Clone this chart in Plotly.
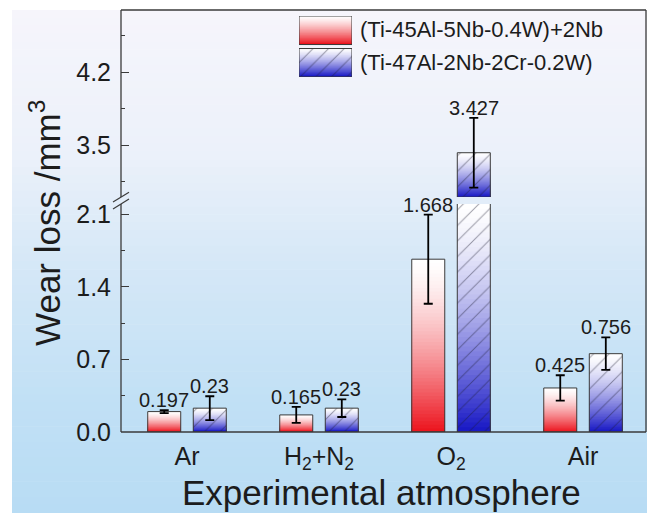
import plotly.graph_objects as go

# ---------------- data ----------------
CATEGORIES = ["Ar", "H<sub>2</sub>+N<sub>2</sub>", "O<sub>2</sub>", "Air"]
SERIES_NAMES = ["(Ti-45Al-5Nb-0.4W)+2Nb", "(Ti-47Al-2Nb-2Cr-0.2W)"]
WEAR_A = [0.197, 0.165, 1.668, 0.425]
ERR_A = [0.015, 0.077, 0.43, 0.123]
WEAR_B = [0.23, 0.23, 3.427, 0.756]
ERR_B = [0.115, 0.085, 0.335, 0.157]

LOW_TICKS = [0.0, 0.7, 1.4, 2.1]
LOW_TICKTEXT = ["0.0", "0.7", "1.4", "2.1"]
LOW_MINOR = [0.35, 1.05, 1.75]
HIGH_TICKS = [3.5, 4.2]
HIGH_TICKTEXT = ["3.5", "4.2"]
HIGH_MINOR = [3.15, 3.85, 4.55]
LOW_RANGE = [0.0, 2.2]
HIGH_RANGE = [3.0, 4.8]

# ---------------- geometry / style ----------------
W, H = 652, 513
L, R, T, B = 121, 646, 8, 432          # plot area in pixels
LOW_TOP_PX, HIGH_BOT_PX = 203, 196       # axis break
PW, PH = R - L, B - T

def px(xp):
    return (xp - L) / PW

def py(yp):
    return (B - yp) / PH

LOW_DOMAIN = [0.0, py(LOW_TOP_PX)]
HIGH_DOMAIN = [py(HIGH_BOT_PX), 1.0]

FONT = "Liberation Sans, Arial, sans-serif"
INK = "#1c1c1c"
EDGE = "#3a3a3a"
RED = (236, 18, 28)
BLUE = (22, 22, 196)
BAR_W = 0.25
CENTERS = [-0.1725, 0.1725]
N_BANDS = 48
HATCH = dict(shape="/", fgcolor="rgba(25,25,45,0.85)", bgcolor="rgba(0,0,0,0)",
             size=11, solidity=0.09, fillmode="overlay")
NO_HATCH = dict(shape="")


def mix(col, t):
    r, g, b = (round(255 + (c - 255) * t) for c in col)
    return f"rgb({r},{g},{b})"


def gradient_bar(xs, lows, highs, col, offset, xa, ya, width=BAR_W, gamma=1.45):
    """Vertical white-to-colour gradient drawn as nested bars (tallest first)."""
    gx, gy, gb, gc = [], [], [], []
    for x, lo, hi in zip(xs, lows, highs):
        if hi <= lo:
            continue
        for k in range(N_BANDS):
            frac = (N_BANDS - k) / N_BANDS
            t = (k + 0.5) / N_BANDS
            gx.append(x)
            gb.append(lo)
            gy.append((hi - lo) * frac)
            gc.append(mix(col, t ** gamma))
    return go.Bar(x=gx, y=gy, base=gb, marker=dict(color=gc, line=dict(width=0)),
                  offset=offset, width=width, xaxis=xa, yaxis=ya,
                  showlegend=False, hoverinfo="skip")


fig = go.Figure()

series = [
    (WEAR_A, ERR_A, RED, NO_HATCH),
    (WEAR_B, ERR_B, BLUE, HATCH),
]

for (vals, errs, col, pat), c in zip(series, CENTERS):
    off = c - BAR_W / 2
    # lower segment of the broken axis
    fig.add_trace(gradient_bar(CATEGORIES, [LOW_RANGE[0]] * len(vals),
                               [min(v, LOW_RANGE[1]) for v in vals], col, off, "x", "y"))
    fig.add_trace(go.Bar(
        x=CATEGORIES, y=vals, offset=off, width=BAR_W, xaxis="x", yaxis="y",
        marker=dict(color="rgba(0,0,0,0)", pattern=pat, line=dict(color=EDGE, width=1)),
        error_y=dict(type="data", array=errs, color="black", thickness=1.8, width=4.5),
        showlegend=False, hoverinfo="skip"))

    # upper segment of the broken axis
    hi_idx = [i for i, v in enumerate(vals) if v > HIGH_RANGE[0]]
    if hi_idx:
        hx = [CATEGORIES[i] for i in hi_idx]
        hv = [vals[i] for i in hi_idx]
        he = [errs[i] for i in hi_idx]
        fig.add_trace(gradient_bar(hx, [HIGH_RANGE[0]] * len(hv), hv, col, off, "x2", "y2"))
        fig.add_trace(go.Bar(
            x=hx, y=[v - HIGH_RANGE[0] for v in hv], base=[HIGH_RANGE[0]] * len(hv),
            offset=off, width=BAR_W, xaxis="x2", yaxis="y2",
            marker=dict(color="rgba(0,0,0,0)", pattern=pat, line=dict(color=EDGE, width=1)),
            showlegend=False, hoverinfo="skip"))
        fig.add_trace(go.Bar(
            x=hx, y=hv, offset=off, width=BAR_W, xaxis="x2", yaxis="y2",
            marker=dict(color="rgba(0,0,0,0)", line=dict(width=0)),
            error_y=dict(type="data", array=he, color="black", thickness=1.8, width=4.5),
            showlegend=False, hoverinfo="skip"))

# value labels above the error bars
annotations = []
for (vals, errs, _, _), c in zip(series, CENTERS):
    for i, (v, e) in enumerate(zip(vals, errs)):
        top = v + e
        yref = "y2" if top > HIGH_RANGE[0] else "y"
        annotations.append(dict(
            x=i + c, y=top, xref="x", yref=yref, text=f"{v:g}", showarrow=False,
            xanchor="center", yanchor="middle", yshift=10,
            font=dict(family=FONT, size=20, color=INK)))

# legend drawn as its own small subplot
LEG_X = [299, 352]
LEG_Y = [14, 75]
leg_h = LEG_Y[1] - LEG_Y[0]
leg_rows = [(leg_h - 28.7, leg_h), (0.0, 28.3)]
for (lo, hi), (_, _, col, pat) in zip(leg_rows, series):
    fig.add_trace(gradient_bar([0.5], [lo], [hi], col, -0.5, "x3", "y3", width=1.0, gamma=1.3))
    fig.add_trace(go.Bar(
        x=[0.5], y=[hi - lo], base=[lo], offset=-0.5, width=1.0, xaxis="x3", yaxis="y3",
        marker=dict(color="rgba(0,0,0,0)", pattern=pat, line=dict(color=EDGE, width=1)),
        showlegend=False, hoverinfo="skip"))
for name, yc in zip(SERIES_NAMES, [28, 61]):
    annotations.append(dict(
        x=px(358), y=py(yc), xref="paper", yref="paper", text=name, showarrow=False,
        xanchor="left", yanchor="middle", font=dict(family=FONT, size=22, color=INK)))

# axis titles
annotations.append(dict(
    x=px(45), y=py(222), xref="paper", yref="paper", text="Wear loss /mm<sup>3</sup>",
    textangle=-90, showarrow=False, xanchor="center", yanchor="middle",
    font=dict(family=FONT, size=35, color=INK)))
annotations.append(dict(
    x=px(381), y=py(493), xref="paper", yref="paper", text="Experimental atmosphere",
    showarrow=False, xanchor="center", yanchor="middle",
    font=dict(family=FONT, size=35, color=INK)))

# background: soft vertical wash from lavender-white to light blue
BG_STOPS = [(8, (246, 245, 251)), (150, (236, 241, 250)), (260, (214, 232, 247)),
            (400, (193, 224, 245)), (513, (184, 220, 244))]
shapes = []
n_bg = 64
for j in range(n_bg):
    y0 = BG_STOPS[0][0] + (BG_STOPS[-1][0] - BG_STOPS[0][0]) * j / n_bg
    y1 = BG_STOPS[0][0] + (BG_STOPS[-1][0] - BG_STOPS[0][0]) * (j + 1) / n_bg
    ym = (y0 + y1) / 2
    for (a, ca), (b, cb) in zip(BG_STOPS[:-1], BG_STOPS[1:]):
        if a <= ym <= b:
            f = (ym - a) / (b - a)
            rgb = tuple(round(p + (q - p) * f) for p, q in zip(ca, cb))
            break
    shapes.append(dict(type="rect", xref="paper", yref="paper", layer="below",
                       x0=px(12), x1=px(647), y0=py(y1 + 0.6), y1=py(y0),
                       fillcolor=f"rgb{rgb}", line=dict(width=0)))

# frame with a break on the left axis
frame = dict(color=EDGE, width=1.3)
for x0, y0, x1, y1 in [(L, B, R, B), (L, T, R, T), (R, T, R, B),
                       (L, B, L, LOW_TOP_PX), (L, HIGH_BOT_PX, L, T)]:
    shapes.append(dict(type="line", xref="paper", yref="paper", layer="above",
                       x0=px(x0), y0=py(y0), x1=px(x1), y1=py(y1), line=frame))
for yc in (HIGH_BOT_PX, LOW_TOP_PX):
    shapes.append(dict(type="line", xref="paper", yref="paper", layer="above",
                       x0=px(L - 8), y0=py(yc + 5), x1=px(L + 8), y1=py(yc - 5),
                       line=dict(color=EDGE, width=1.2)))

yax_common = dict(ticks="inside", ticklen=8, tickwidth=1.2, tickcolor=EDGE,
                  showgrid=False, zeroline=False, showline=False, anchor="x",
                  tickfont=dict(family=FONT, size=25, color=INK), ticklabelstandoff=9,
                  fixedrange=True)

fig.update_layout(
    width=W, height=H,
    margin=dict(l=L, r=W - R, t=T, b=H - B),
    paper_bgcolor="white", plot_bgcolor="rgba(0,0,0,0)",
    barmode="overlay", showlegend=False,
    xaxis=dict(type="category", categoryorder="array", categoryarray=CATEGORIES,
               range=[-0.5, 3.477], ticks="", showline=False, showgrid=False,
               zeroline=False, anchor="y", fixedrange=True,
               tickfont=dict(family=FONT, size=25, color=INK), ticklabelstandoff=7),
    xaxis2=dict(type="category", categoryorder="array", categoryarray=CATEGORIES,
                matches="x", anchor="y2", visible=False),
    yaxis=dict(domain=LOW_DOMAIN, range=LOW_RANGE, tickvals=LOW_TICKS,
               ticktext=LOW_TICKTEXT,
               minor=dict(tickvals=LOW_MINOR, ticks="inside", ticklen=4,
                          tickcolor=EDGE, showgrid=False), **yax_common),
    yaxis2=dict(domain=HIGH_DOMAIN, range=HIGH_RANGE, tickvals=HIGH_TICKS,
                ticktext=HIGH_TICKTEXT,
                minor=dict(tickvals=HIGH_MINOR, ticks="inside", ticklen=4,
                           tickcolor=EDGE, showgrid=False),
                **{**yax_common, "anchor": "x2"}),
    xaxis3=dict(domain=[px(LEG_X[0]), px(LEG_X[1])], range=[0, 1], visible=False,
                anchor="y3", fixedrange=True),
    yaxis3=dict(domain=[py(LEG_Y[1]), py(LEG_Y[0])], range=[0, leg_h], visible=False,
                anchor="x3", fixedrange=True),
    annotations=annotations,
    shapes=shapes,
)

fig.write_html("out.html")
